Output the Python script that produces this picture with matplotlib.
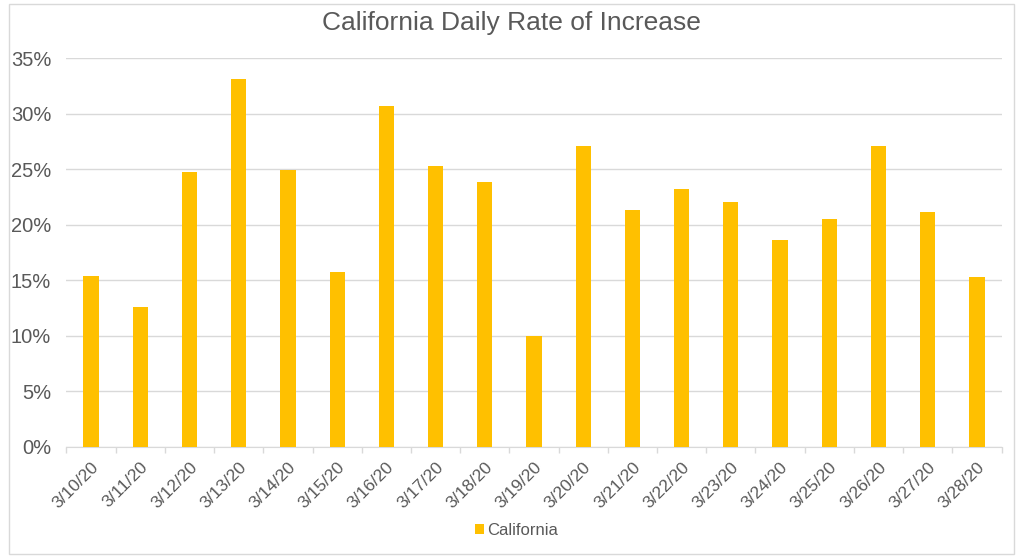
import matplotlib
matplotlib.use("Agg")
import matplotlib.pyplot as plt
from matplotlib.patches import Rectangle
from matplotlib.ticker import FuncFormatter, FixedLocator, NullFormatter

plt.rcParams["font.family"] = ["Liberation Sans", "DejaVu Sans"]

dates = ["3/10/20", "3/11/20", "3/12/20", "3/13/20", "3/14/20", "3/15/20",
         "3/16/20", "3/17/20", "3/18/20", "3/19/20", "3/20/20", "3/21/20",
         "3/22/20", "3/23/20", "3/24/20", "3/25/20", "3/26/20", "3/27/20",
         "3/28/20"]
rates = [0.154, 0.126, 0.247, 0.331, 0.249, 0.157, 0.307, 0.253, 0.238,
         0.100, 0.271, 0.213, 0.232, 0.220, 0.186, 0.205, 0.271, 0.211,
         0.153]

BAR = "#FFC000"
TEXT = "#595959"

fig = plt.figure(figsize=(10.23, 5.58), dpi=100)
fig.patches.append(Rectangle((0.009, 0.008), 0.982, 0.984, transform=fig.transFigure,
                             fill=False, edgecolor="#d9d9d9", linewidth=1))
ax = fig.add_axes([0.065, 0.199, 0.914, 0.697])

x = list(range(len(dates)))
ax.bar(x, rates, width=0.31, color=BAR, label="California", zorder=3)

ax.set_xlim(-0.5, len(dates) - 0.5)
ax.set_ylim(0, 0.35)
ax.set_yticks([i * 0.05 for i in range(8)])
ax.yaxis.set_major_formatter(FuncFormatter(lambda v, _: f"{v * 100:.0f}%"))
ax.grid(axis="y", color="#d9d9d9", linewidth=1, zorder=0)

ax.set_xticks(x)
ax.set_xticklabels(dates, rotation=45, ha="right", rotation_mode="anchor",
                   fontsize=12.5, color=TEXT)
ax.tick_params(axis="x", which="major", length=0, pad=9)
ax.xaxis.set_minor_locator(FixedLocator([i - 0.5 for i in range(len(dates) + 1)]))
ax.xaxis.set_minor_formatter(NullFormatter())
ax.tick_params(axis="x", which="minor", length=4, color="#d9d9d9", width=1)
ax.tick_params(axis="y", length=0, labelsize=14.5, labelcolor=TEXT, pad=11)

for side in ["top", "right", "left"]:
    ax.spines[side].set_visible(False)
ax.spines["bottom"].set_color("#d9d9d9")

fig.text(0.5, 0.958, "California Daily Rate of Increase", ha="center", va="center",
         fontsize=19, color=TEXT)

fig.legend(loc="center", bbox_to_anchor=(0.505, 0.05), frameon=False,
           fontsize=12, labelcolor=TEXT, handlelength=0.55, handleheight=0.55,
           handletextpad=0.2)

fig.savefig("out.png", dpi=100)
